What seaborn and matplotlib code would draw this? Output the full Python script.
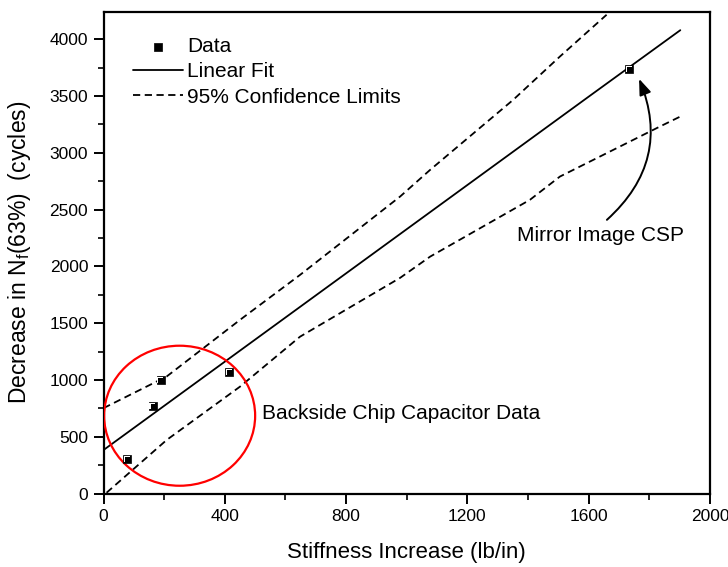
import numpy as np
import pandas as pd
import matplotlib
matplotlib.use("Agg")
import matplotlib.pyplot as plt
from matplotlib.patches import Ellipse
from matplotlib.ticker import MultipleLocator
from matplotlib.transforms import offset_copy
import seaborn as sns

# ---- data ----
data_x = [77, 162, 188, 414, 1734]
data_y = [304, 769, 998, 1070, 3740]

fit_x = [0, 400, 800, 1200, 1600, 1902]
fit_y = [383, 1161, 1939, 2717, 3495, 4080]

upper_x = [0, 208, 450, 648, 978, 1077, 1351, 1505, 1659]
upper_y = [752, 1030, 1529, 1925, 2615, 2850, 3467, 3848, 4216]

lower_x = [10, 208, 450, 648, 978, 1077, 1406, 1505, 1835, 1900]
lower_y = [7, 471, 941, 1381, 1899, 2086, 2586, 2791, 3232, 3317]

x_ticks = [0, 400, 800, 1200, 1600, 2000]
y_ticks = [0, 500, 1000, 1500, 2000, 2500, 3000, 3500, 4000]

sns.set_theme(style="ticks")
plt.rcParams['font.family'] = ['Liberation Sans', 'DejaVu Sans']
plt.rcParams['mathtext.fontset'] = 'custom'
plt.rcParams['mathtext.rm'] = 'Liberation Sans'
for k in ['text.color', 'axes.labelcolor', 'xtick.color', 'ytick.color',
          'axes.edgecolor']:
    plt.rcParams[k] = 'black'

fig = plt.figure(figsize=(7.28, 5.67), dpi=100)
ax = fig.add_axes([0.1422, 0.1296, 0.9753 - 0.1422, 0.9788 - 0.1296])

df_pts = pd.DataFrame({"x": data_x, "y": data_y})
df_fit = pd.DataFrame({"x": fit_x, "y": fit_y})
df_up = pd.DataFrame({"x": upper_x, "y": upper_y})
df_lo = pd.DataFrame({"x": lower_x, "y": lower_y})

sns.lineplot(data=df_fit, x="x", y="y", ax=ax, color="black", lw=1.3,
             label="Linear Fit", sort=False)
sns.lineplot(data=df_up, x="x", y="y", ax=ax, color="black", lw=1.3,
             label="95% Confidence Limits", sort=False)
sns.lineplot(data=df_lo, x="x", y="y", ax=ax, color="black", lw=1.3,
             sort=False, legend=False)
for ln in ax.lines[1:3]:
    ln.set_dashes([4, 2.5])
sns.scatterplot(data=df_pts, x="x", y="y", ax=ax, marker="s", s=38,
                color="black", edgecolor="black", linewidth=0.5,
                label="Data", zorder=5)
# white corner highlight inside squares (Origin-style)
ax.scatter(data_x, data_y, marker="s", s=15, color="white", zorder=6,
           linewidths=0,
           transform=offset_copy(ax.transData, fig, x=-0.3, y=0.3, units='dots'))
ax.scatter(data_x, data_y, marker="s", s=15, color="black", zorder=7,
           linewidths=0,
           transform=offset_copy(ax.transData, fig, x=0.9, y=-0.9, units='dots'))

# red circle
circ = Ellipse((251, 685), width=498, height=1233, fill=False,
               edgecolor="red", lw=1.6, zorder=4)
ax.add_patch(circ)

ax.text(523, 709, "Backside Chip Capacitor Data", fontsize=15,
        va="center", ha="left")
ax.text(1364, 2269, "Mirror Image CSP", fontsize=15, va="center", ha="left")
ax.annotate("", xy=(1766, 3652), xytext=(1660, 2410),
            arrowprops=dict(arrowstyle="-|>,head_length=0.8,head_width=0.3",
                            color="black", lw=1.4,
                            connectionstyle="arc3,rad=0.35",
                            shrinkA=0, shrinkB=0))

ax.set_xlim(0, 2000)
ax.set_ylim(0, 4240)
ax.set_xticks(x_ticks)
ax.set_yticks(y_ticks)
ax.xaxis.set_minor_locator(MultipleLocator(200))
ax.yaxis.set_minor_locator(MultipleLocator(250))
ax.tick_params(which="major", direction="out", length=7, width=1.4,
               labelsize=12.5, pad=4, colors="black")
ax.tick_params(which="minor", direction="out", length=4, width=1.2,
               colors="black")
for sp in ax.spines.values():
    sp.set_linewidth(1.6)
    sp.set_color("black")

ax.set_xlabel("Stiffness Increase (lb/in)", fontsize=16, labelpad=13)
ax.set_ylabel(r"Decrease in N$_\mathregular{f}$(63%)  (cycles)",
              fontsize=16.5, labelpad=12)

# legend
h, l = ax.get_legend_handles_labels()
order = [l.index("Data"), l.index("Linear Fit"), l.index("95% Confidence Limits")]
leg = ax.legend([h[i] for i in order], [l[i] for i in order],
                loc="upper left", bbox_to_anchor=(0.035, 0.965),
                frameon=False, fontsize=15, handlelength=2.4,
                handletextpad=0.2, labelspacing=0.3, borderaxespad=0)

fig.savefig("out.png", dpi=100)
